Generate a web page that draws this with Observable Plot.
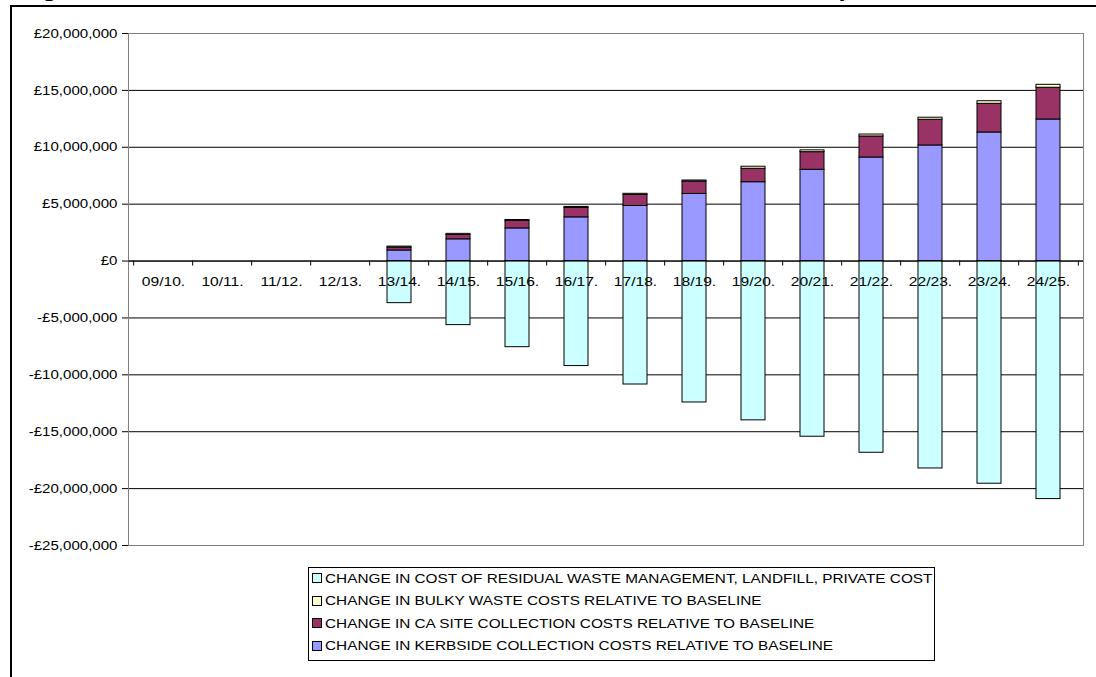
<!DOCTYPE html>
<html>
<head>
<meta charset="utf-8">
<script src="https://cdn.jsdelivr.net/npm/d3@7"></script>
<script src="https://cdn.jsdelivr.net/npm/@observablehq/plot@0.6"></script>
<style>
  html, body { margin: 0; padding: 0; background: #fff; overflow: hidden; }
  body { width: 1096px; height: 677px; position: relative; font-family: Arial, "Liberation Sans", sans-serif; }
  #title { position: absolute; left: 19px; top: -22px; line-height: 22px; font-size: 22px; font-weight: bold; white-space: nowrap; color: #000; transform: scaleX(1.17); transform-origin: left center; }
  #box { position: absolute; left: 10px; top: 5px; width: 1200px; height: 800px; border-left: 2px solid #000; border-top: 2px solid #000; }
  #chart { position: absolute; left: 0; top: 0; }
  #legend { position: absolute; left: 308px; top: 567px; width: 627px; height: 94px; border: 1px solid #000; background: #fff; padding: 0 0 0 3px; box-sizing: border-box; }
  .row { display: flex; align-items: center; height: 22.5px; font-size: 13px; color: #000; white-space: nowrap; }
  .row:first-child { margin-top: -1px; }
  .sw { width: 8px; height: 8px; border: 1px solid #000; margin-right: 3px; flex: none; }
  .lbl { display: inline-block; transform: scaleX(1.18); transform-origin: left center; }
</style>
</head>
<body>
<div id="title">Figure 5 - Financial Costs Under Maximum Kerbside Collection Proposal and</div>
<div id="box"></div>
<div id="chart"></div>
<div id="legend"></div>
<script>
// Financial years on the category axis
const years = ["09/10.", "10/11.", "11/12.", "12/13.", "13/14.", "14/15.", "15/16.", "16/17.",
               "17/18.", "18/19.", "19/20.", "20/21.", "21/22.", "22/23.", "23/24.", "24/25."];

// Cost changes relative to baseline (£)
const kerbside = [0, 0, 0, 0, 930000, 1910000, 2870000, 3840000,
                  4840000, 5900000, 6930000, 8020000, 9100000, 10160000, 11300000, 12440000];
const caSite   = [0, 0, 0, 0, 240000, 380000, 650000, 830000,
                  970000, 1080000, 1180000, 1550000, 1850000, 2260000, 2520000, 2790000];
const bulky    = [0, 0, 0, 0, 100000, 100000, 90000, 90000,
                  100000, 100000, 180000, 160000, 170000, 180000, 230000, 260000];
const residual = [0, 0, 0, 0, -3700000, -5630000, -7570000, -9230000,
                  -10850000, -12430000, -14000000, -15440000, -16850000, -18230000, -19570000, -20920000];

// Y-axis ticks
const yTicks = [-25000000, -20000000, -15000000, -10000000, -5000000, 0,
                5000000, 10000000, 15000000, 20000000];

const seriesNames = [
  "CHANGE IN KERBSIDE COLLECTION COSTS RELATIVE TO BASELINE",
  "CHANGE IN CA SITE COLLECTION COSTS RELATIVE TO BASELINE",
  "CHANGE IN BULKY WASTE COSTS RELATIVE TO BASELINE",
  "CHANGE IN COST OF RESIDUAL WASTE MANAGEMENT, LANDFILL, PRIVATE COST"
];
const seriesValues = [kerbside, caSite, bulky, residual];
const seriesColors = ["#9999FF", "#993366", "#FFFFCC", "#CCFFFF"];
// Legend lists the series top-down in reverse order
const legendOrder = [3, 2, 1, 0];

// Long-form table; stacking follows input order (kerbside at the base)
const rows = [];
years.forEach((yr, i) => {
  seriesValues.forEach((vals, s) => {
    if (vals[i] !== 0) rows.push({year: yr, series: seriesNames[s], value: vals[i]});
  });
});

const W = 1096, H = 560;
const mL = 128, mR = 13, mT = 33, mB = 15;
const step = (W - mL - mR) / years.length;

const fmt = v => (v < 0 ? "-" : "") + "£" + d3.format(",")(Math.abs(v));

const chart = Plot.plot({
  width: W,
  height: H,
  marginLeft: mL,
  marginRight: mR,
  marginTop: mT,
  marginBottom: mB,
  style: {fontFamily: "Arial, 'Liberation Sans', sans-serif", fontSize: "13px", color: "#000", background: "transparent"},
  x: {domain: years, paddingInner: 0.6, paddingOuter: 0.3, axis: null},
  y: {domain: [-25000000, 20000000], ticks: yTicks, tickFormat: fmt, tickSize: 6, tickPadding: 5, label: null},
  color: {domain: seriesNames, range: seriesColors},
  marks: [
    // horizontal gridlines
    Plot.ruleY(yTicks.filter(t => t > -25000000 && t < 20000000), {stroke: "#000", strokeWidth: 1}),
    Plot.frame({stroke: "#808080", strokeWidth: 1}),
    Plot.barY(rows, Plot.stackY({
      x: "year",
      y: "value",
      fill: "series",
      stroke: "#000",
      strokeWidth: 1,
      order: null
    })),
    // category separators hanging below the zero line
    Plot.ruleX(years, {x: d => d, y1: 0, y2: 0, dx: -step / 2, insetBottom: -5, stroke: "#000"}),
    Plot.ruleX(years.slice(-1), {x: d => d, y1: 0, y2: 0, dx: step / 2, insetBottom: -5, stroke: "#000"}),
    // category labels under the zero line
    Plot.text(years, {x: d => d, y: 0, text: d => d, dy: 21, fill: "#000", fontSize: 13}),
    Plot.ruleY([0], {stroke: "#000", strokeWidth: 1})
  ]
});
document.getElementById("chart").appendChild(chart);

// Widen the chart's text horizontally about each label's anchor point
chart.querySelectorAll("text").forEach(el => {
  const t = el.getAttribute("transform") || "";
  const x = parseFloat(el.getAttribute("x")) || 0;
  const sx = el.closest('g[aria-label="text"]') ? 1.2 : 1.16;
  el.setAttribute("transform", `${t} translate(${x},0) scale(${sx},1) translate(${-x},0)`);
});

// Legend
const legend = document.getElementById("legend");
legendOrder.forEach(s => {
  const row = document.createElement("div");
  row.className = "row";
  const sw = document.createElement("span");
  sw.className = "sw";
  sw.style.background = seriesColors[s];
  const label = document.createElement("span");
  label.className = "lbl";
  label.textContent = seriesNames[s];
  row.appendChild(sw);
  row.appendChild(label);
  legend.appendChild(row);
});
</script>
</body>
</html>
